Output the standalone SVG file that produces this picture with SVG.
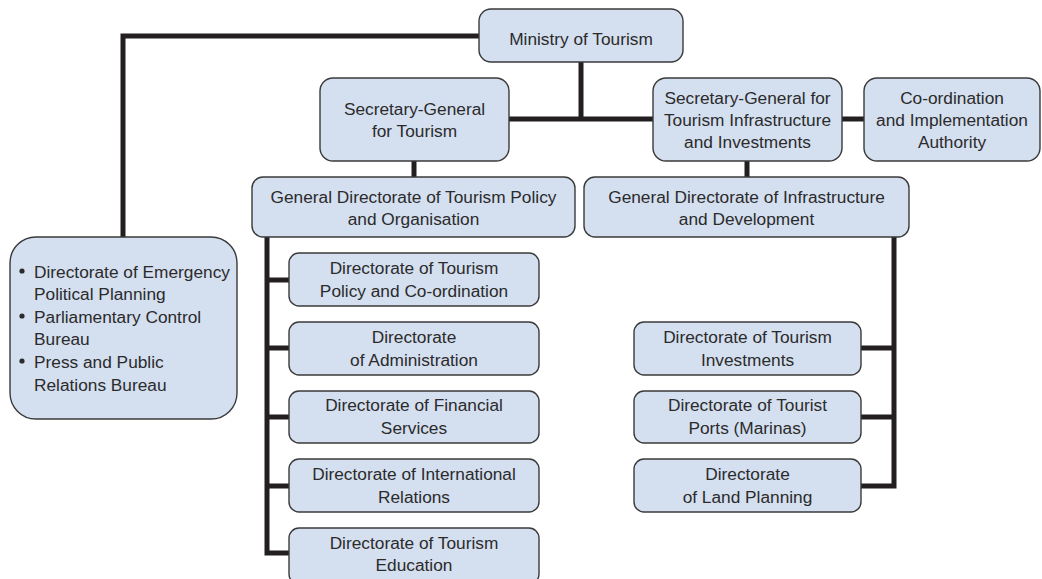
<svg xmlns="http://www.w3.org/2000/svg" width="1042" height="579" viewBox="0 0 1042 579">
<style>
.box{fill:#d4dff0;stroke:#3a3a3a;stroke-width:1.4}
.t{font-family:"Liberation Sans",Arial,sans-serif;font-size:17.3px;fill:#2b2b2b;text-anchor:middle}
.tl{font-family:"Liberation Sans",Arial,sans-serif;font-size:17.3px;fill:#2b2b2b}
.c{fill:none;stroke:#231f20;stroke-width:5;stroke-linejoin:miter;stroke-linecap:butt}
.b{fill:#2b2b2b}
</style>
<rect width="1042" height="579" fill="#ffffff"/>
<g id="connectors">
<path class="c" d="M479,36 H123 V238"/>
<path class="c" d="M581,62 V119"/>
<path class="c" d="M509,119 H653"/>
<path class="c" d="M842,119 H864"/>
<path class="c" d="M414,161 V177"/>
<path class="c" d="M747,161 V177"/>
<path class="c" d="M267,237 V553 H289"/>
<path class="c" d="M267,280 H289 M267,348 H289 M267,417 H289 M267,486 H289"/>
<path class="c" d="M894,237 V486 H861"/>
<path class="c" d="M894,348 H861 M894,417 H861"/>
</g>
<g id="ministry">
<rect class="box" x="479" y="9" width="204" height="53" rx="12"/>
<text class="t" x="581" y="45">Ministry of Tourism</text>
</g>
<g id="sg-tourism">
<rect class="box" x="320" y="78" width="189" height="83" rx="13"/>
<text class="t" x="414.5" y="115">Secretary-General</text>
<text class="t" x="414.5" y="137">for Tourism</text>
</g>
<g id="sg-infra">
<rect class="box" x="653" y="78" width="189" height="83" rx="13"/>
<text class="t" x="747.5" y="104">Secretary-General for</text>
<text class="t" x="747.5" y="126">Tourism Infrastructure</text>
<text class="t" x="747.5" y="148">and Investments</text>
</g>
<g id="coordination">
<rect class="box" x="864" y="78" width="176" height="83" rx="13"/>
<text class="t" x="952" y="104">Co-ordination</text>
<text class="t" x="952" y="126">and Implementation</text>
<text class="t" x="952" y="148">Authority</text>
</g>
<g id="gd-tourism">
<rect class="box" x="252" y="177" width="323" height="60" rx="11"/>
<text class="t" x="413.5" y="203">General Directorate of Tourism Policy</text>
<text class="t" x="413.5" y="225">and Organisation</text>
</g>
<g id="gd-infra">
<rect class="box" x="584" y="177" width="325" height="60" rx="11"/>
<text class="t" x="746.5" y="203">General Directorate of Infrastructure</text>
<text class="t" x="746.5" y="225">and Development</text>
</g>
<g id="bureaux">
<rect class="box" x="10" y="237" width="227" height="182" rx="26"/>
<circle class="b" cx="22" cy="271" r="2.6"/>
<text class="tl" x="34" y="278">Directorate of Emergency</text>
<text class="tl" x="34" y="300">Political Planning</text>
<circle class="b" cx="22" cy="316" r="2.6"/>
<text class="tl" x="34" y="323">Parliamentary Control</text>
<text class="tl" x="34" y="345">Bureau</text>
<circle class="b" cx="22" cy="361" r="2.6"/>
<text class="tl" x="34" y="368">Press and Public</text>
<text class="tl" x="34" y="391">Relations Bureau</text>
</g>
<g id="d-policy">
<rect class="box" x="289" y="253" width="250" height="53" rx="10"/>
<text class="t" x="414" y="274">Directorate of Tourism</text>
<text class="t" x="414" y="297">Policy and Co-ordination</text>
</g>
<g id="d-admin">
<rect class="box" x="289" y="322" width="250" height="53" rx="10"/>
<text class="t" x="414" y="343">Directorate</text>
<text class="t" x="414" y="366">of Administration</text>
</g>
<g id="d-financial">
<rect class="box" x="289" y="391" width="250" height="52" rx="10"/>
<text class="t" x="414" y="411">Directorate of Financial</text>
<text class="t" x="414" y="434">Services</text>
</g>
<g id="d-international">
<rect class="box" x="289" y="459" width="250" height="53" rx="10"/>
<text class="t" x="414" y="480">Directorate of International</text>
<text class="t" x="414" y="503">Relations</text>
</g>
<g id="d-education">
<rect class="box" x="289" y="528" width="250" height="56" rx="10"/>
<text class="t" x="414" y="549">Directorate of Tourism</text>
<text class="t" x="414" y="571">Education</text>
</g>
<g id="d-investments">
<rect class="box" x="634" y="322" width="227" height="53" rx="10"/>
<text class="t" x="747.5" y="343">Directorate of Tourism</text>
<text class="t" x="747.5" y="366">Investments</text>
</g>
<g id="d-ports">
<rect class="box" x="634" y="391" width="227" height="52" rx="10"/>
<text class="t" x="747.5" y="411">Directorate of Tourist</text>
<text class="t" x="747.5" y="434">Ports (Marinas)</text>
</g>
<g id="d-land">
<rect class="box" x="634" y="459" width="227" height="53" rx="10"/>
<text class="t" x="747.5" y="480">Directorate</text>
<text class="t" x="747.5" y="503">of Land Planning</text>
</g>
</svg>
